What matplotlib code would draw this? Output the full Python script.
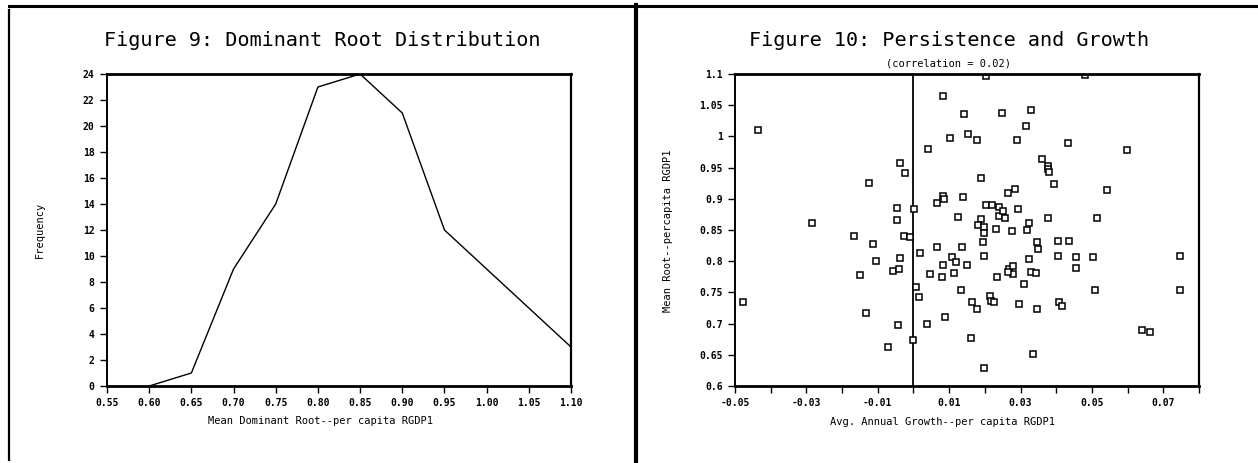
import matplotlib
matplotlib.use("Agg")
import matplotlib.pyplot as plt
from matplotlib.lines import Line2D

# ---------------- data ----------------
# Figure 9: dominant root distribution (frequency polygon)
root_bins = [0.60, 0.65, 0.70, 0.75, 0.80, 0.85, 0.90, 0.95, 1.00, 1.05, 1.10]
root_freq = [0, 1, 9, 14, 23, 24, 21, 12, 9, 6, 3]
hist_xticks = [0.55, 0.60, 0.65, 0.70, 0.75, 0.80, 0.85, 0.90, 0.95, 1.00, 1.05, 1.10]
hist_xticklabels = ["0.55", "0.60", "0.65", "0.70", "0.75", "0.80", "0.85", "0.90",
                    "0.95", "1.00", "1.05", "1.10"]
hist_yticks = [0, 2, 4, 6, 8, 10, 12, 14, 16, 18, 20, 22, 24]

# Figure 10: persistence vs growth
growth = [-0.0435, -0.0477, -0.0283, -0.0124, -0.0166, -0.0114, -0.0106, -0.0149, -0.0132, -0.0071,
          -0.0044, -0.0057, -0.0041, -0.0038, -0.0046, -0.0046, -0.0027, -0.0009, -0.0037, -0.0025,
          0.0002, 0.0007, 0.0016, -0.0002, 0.0018, 0.0041, 0.0038, 0.0047, 0.0065, 0.0066,
          0.0083, 0.0086, 0.0083, 0.0103, 0.0082, 0.0079, 0.0087, 0.0107, 0.0119, 0.0113,
          0.0124, 0.0135, 0.0134, 0.0140, 0.0142, 0.0152, 0.0149, 0.0162, 0.0164, 0.0179,
          0.0179, 0.0189, 0.0189, 0.0181, 0.0198, 0.0199, 0.0196, 0.0197, 0.0203, 0.0220,
          0.0198, 0.0203, 0.0215, 0.0216, 0.0225, 0.0232, 0.0233, 0.0240, 0.0241, 0.0248,
          0.0250, 0.0257, 0.0265, 0.0267, 0.0275, 0.0279, 0.0279, 0.0265, 0.0284, 0.0291,
          0.0292, 0.0296, 0.0309, 0.0316, 0.0318, 0.0328, 0.0324, 0.0324, 0.0328, 0.0342,
          0.0336, 0.0345, 0.0350, 0.0347, 0.0359, 0.0376, 0.0378, 0.0380, 0.0395, 0.0377,
          0.0404, 0.0405, 0.0407, 0.0417, 0.0435, 0.0432, 0.0455, 0.0456, 0.0502, 0.0515,
          0.0510, 0.0542, 0.0599, 0.0480, 0.0641, 0.0663, 0.0748, 0.0747]
mean_root = [1.010, 0.734, 0.861, 0.925, 0.840, 0.828, 0.801, 0.778, 0.717, 0.662,
             0.697, 0.784, 0.788, 0.805, 0.866, 0.886, 0.841, 0.838, 0.957, 0.941,
             0.883, 0.758, 0.742, 0.674, 0.813, 0.980, 0.699, 0.780, 0.822, 0.894,
             0.904, 0.899, 1.065, 0.997, 0.794, 0.775, 0.711, 0.807, 0.798, 0.781,
             0.871, 0.822, 0.754, 0.903, 1.036, 1.004, 0.794, 0.677, 0.734, 0.724,
             0.994, 0.934, 0.868, 0.858, 0.855, 0.845, 0.831, 0.808, 0.890, 0.890,
             0.629, 1.096, 0.745, 0.736, 0.734, 0.852, 0.775, 0.872, 0.887, 1.038,
             0.880, 0.870, 0.910, 0.787, 0.849, 0.792, 0.780, 0.783, 0.915, 0.994,
             0.883, 0.731, 0.764, 1.016, 0.850, 1.043, 0.861, 0.803, 0.783, 0.781,
             0.652, 0.830, 0.819, 0.724, 0.963, 0.952, 0.947, 0.943, 0.923, 0.869,
             0.832, 0.809, 0.735, 0.729, 0.833, 0.990, 0.807, 0.789, 0.807, 0.869,
             0.754, 0.914, 0.978, 1.098, 0.689, 0.686, 0.808, 0.754]
scat_xticks = [-0.05, -0.04, -0.03, -0.02, -0.01, 0.0, 0.01, 0.02, 0.03, 0.04, 0.05, 0.06, 0.07, 0.08]
scat_xticklabels = ["-0.05", "", "-0.03", "", "-0.01", "", "0.01", "", "0.03", "", "0.05", "", "0.07", ""]
scat_yticks = [0.6, 0.65, 0.7, 0.75, 0.8, 0.85, 0.9, 0.95, 1.0, 1.05, 1.1]
scat_yticklabels = ["0.6", "0.65", "0.7", "0.75", "0.8", "0.85", "0.9", "0.95", "1", "1.05", "1.1"]

# ---------------- figure ----------------
W, H = 1258, 463
fig = plt.figure(figsize=(W / 100, H / 100), dpi=100)
fig.patch.set_facecolor("white")

MONO = "DejaVu Sans Mono"


def px_axes(x0, x1, y0, y1):
    return fig.add_axes([x0 / W, 1 - y1 / H, (x1 - x0) / W, (y1 - y0) / H])


def ftext(x, y, s, **kw):
    fig.text(x / W, 1 - y / H, s, ha="center", va="center", family=MONO, **kw)


def style_axes(ax):
    for side, lw in (("top", 2.0), ("bottom", 2.0), ("left", 1.4), ("right", 1.6)):
        ax.spines[side].set_linewidth(lw)
        ax.spines[side].set_color("black")
    ax.tick_params(direction="out", length=5, width=1.0, colors="black", pad=4,
                   labelsize=7)
    for lab in ax.get_xticklabels() + ax.get_yticklabels():
        lab.set_fontfamily(MONO)
        lab.set_fontweight("bold")


# --- left panel ---
ax1 = px_axes(107, 571, 74, 386)
ax1.plot(root_bins, root_freq, color="black", lw=1.0)
ax1.set_xlim(0.55, 1.10)
ax1.set_ylim(0, 24)
ax1.set_xticks(hist_xticks)
ax1.set_xticklabels(hist_xticklabels)
ax1.set_yticks(hist_yticks)
style_axes(ax1)

ftext(322, 40, "Figure 9: Dominant Root Distribution", fontsize=14.5)
ftext(320, 421, "Mean Dominant Root--per capita RGDP1", fontsize=7.5)
ftext(40, 230, "Frequency", fontsize=7.5, rotation=90)

# --- right panel ---
ax2 = px_axes(735, 1199, 74, 386)
ax2.axvline(0, color="black", lw=1.3)
ax2.plot(growth, mean_root, linestyle="none", marker="s", markersize=5,
         markerfacecolor="white", markeredgecolor="black", markeredgewidth=1.1)
ax2.set_xlim(-0.05, 0.08)
ax2.set_ylim(0.6, 1.1)
ax2.set_xticks(scat_xticks)
ax2.set_xticklabels(scat_xticklabels)
ax2.set_yticks(scat_yticks)
ax2.set_yticklabels(scat_yticklabels)
style_axes(ax2)

ftext(949, 40, "Figure 10: Persistence and Growth", fontsize=14.5)
ftext(948, 64, "(correlation = 0.02)", fontsize=7.5)
ftext(943, 422, "Avg. Annual Growth--per capita RGDP1", fontsize=7.5)
ftext(668, 231, "Mean Root--percapita RGDP1", fontsize=7.5, rotation=90)

# --- page frame lines (scanned page borders) ---
def fline(xs, ys, lw):
    fig.add_artist(Line2D([x / W for x in xs], [1 - y / H for y in ys],
                          color="black", lw=lw, transform=fig.transFigure))

fline([9, 1258], [5.5, 5.5], 2.2)
fline([9, 9], [10, 460], 1.6)
fline([636, 636], [5, 463], 3.0)

fig.savefig("out.png", dpi=100, facecolor="white")
